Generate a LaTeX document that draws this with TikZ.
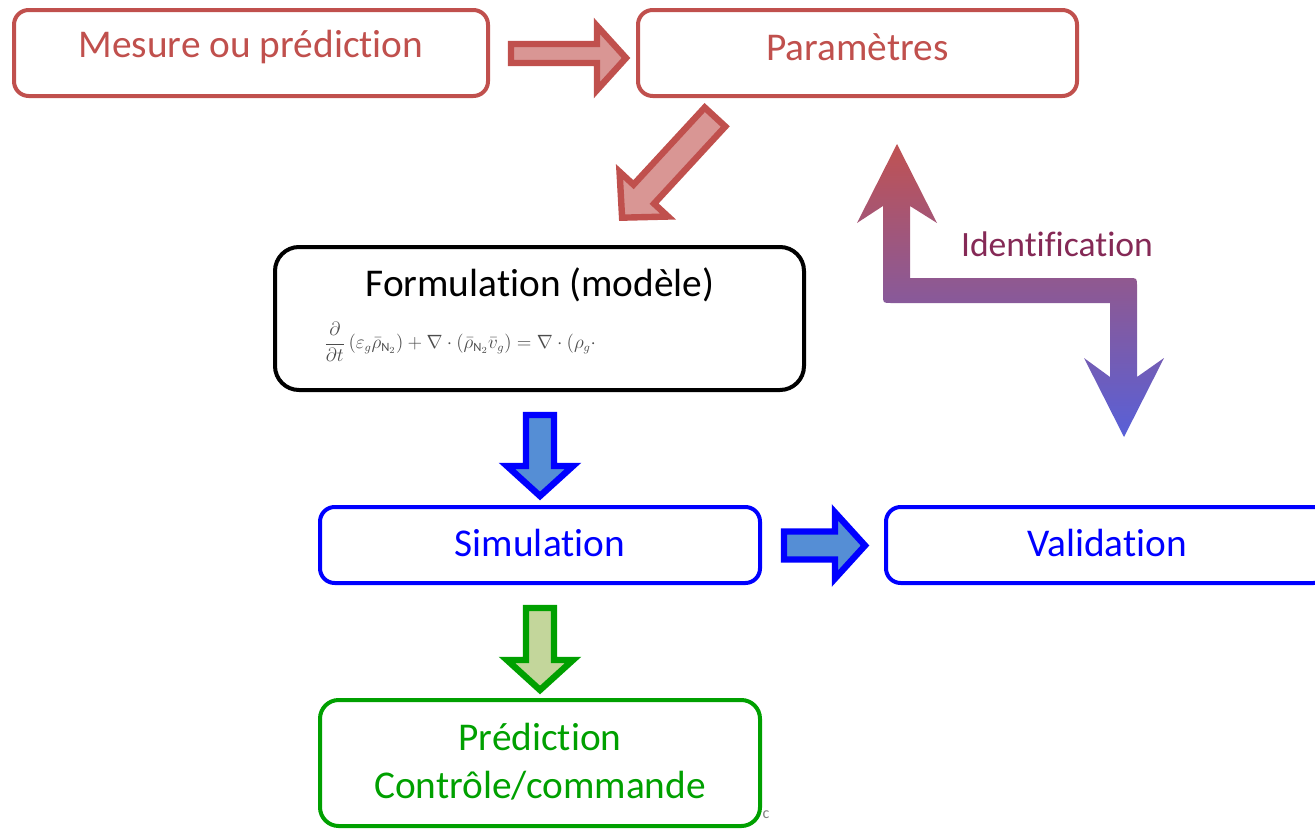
\documentclass[tikz,border=0pt]{standalone}
\usepackage{fontspec}
\setmainfont{Carlito}[Ligatures=NoCommon]
\usetikzlibrary{calc}
\definecolor{rd}{HTML}{C0504D}
\definecolor{rdfill}{HTML}{D99694}
\definecolor{bl}{HTML}{0000FF}
\definecolor{blfill}{HTML}{558ED5}
\definecolor{gr}{RGB}{0,160,0}
\definecolor{grfill}{HTML}{C3D69B}
\definecolor{idtop}{RGB}{192,82,82}
\definecolor{idmid}{RGB}{135,90,140}
\definecolor{idbot}{RGB}{88,96,216}
\definecolor{idtext}{RGB}{133,41,86}
\newcommand{\blkarrow}[7]{%
  \begin{scope}[shift={#1},rotate=#2]
    \draw[#7] (0,#4) -- ({#3-#6},#4) -- ({#3-#6},#5) -- (#3,0) -- ({#3-#6},-#5) -- ({#3-#6},-#4) -- (0,-#4) -- cycle;
  \end{scope}}
\tikzset{
  box/.style={rectangle, line width=3pt, inner sep=0pt},
  redbox/.style={box, draw=rd, rounded corners=11pt},
  blackbox/.style={box, draw=black, rounded corners=18pt},
  bluebox/.style={box, draw=bl, rounded corners=11pt},
  greenbox/.style={box, draw=gr, rounded corners=14pt},
  lbl/.style={inner sep=0pt, font=\fontsize{29.5}{36}\selectfont},
  redarrow/.style={draw=rd, fill=rdfill, line width=4.8pt},
  bluearrow/.style={draw=bl, fill=blfill, line width=4.8pt},
  greenarrow/.style={draw=gr, fill=grfill, line width=4.8pt},
}
\begin{document}
\begin{tikzpicture}[x=0.75pt,y=0.75pt]
\useasboundingbox (0,0) rectangle (1315,-832);
% boxes
\node[redbox, minimum width=474*0.75pt, minimum height=86*0.75pt] (mesure) at (251,-53) {};
\node[lbl, text=rd] (mesuretext) at (251,-47) {Mesure ou prédiction};
\node[redbox, minimum width=439*0.75pt, minimum height=86*0.75pt] (param) at (857.5,-53) {};
\node[lbl, text=rd] (paramtext) at (857.5,-47) {Paramètres};
\node[blackbox, minimum width=529*0.75pt, minimum height=143*0.75pt] (form) at (539.5,-318.5) {};
\node[lbl] (formtitle) at (540,-285) {Formulation (modèle)};
\node[text=black!70, inner sep=0pt, font=\fontsize{13.5}{16}\selectfont] (formeq) at (461,-342)
  {$\displaystyle\frac{\partial}{\partial t}\left(\varepsilon_g\bar{\rho}_{\mathrm{N}_2}\right)+\nabla\cdot\left(\bar{\rho}_{\mathrm{N}_2}\bar{v}_g\right)=\nabla\cdot\left(\rho_g\cdot\right.$};
\node[bluebox, minimum width=440*0.75pt, minimum height=76*0.75pt] (sim) at (540,-545) {};
\node[lbl, text=bl] (simtext) at (540,-543) {Simulation};
\node[bluebox, minimum width=442*0.75pt, minimum height=76*0.75pt] (valid) at (1107,-545) {};
\node[lbl, text=bl] (validtext) at (1107,-543) {Validation};
\node[greenbox, minimum width=440*0.75pt, minimum height=126*0.75pt] (pred) at (540,-763) {};
\node[lbl, text=gr, align=center] (predtext) at (540,-762) {Prédiction\\Contrôle/commande};
\node[text=black!50, font=\fontsize{12}{14}\selectfont, inner sep=0pt] (cmark) at (766,-815) {c};
% block arrows
\draw[redarrow] (511,-44) -- (597,-44) -- (597,-26) -- (626,-58) -- (597,-90) -- (597,-63) -- (511,-63) -- cycle;
\blkarrow{(715,-117)}{227.3}{137}{14}{33}{32}{redarrow}
\blkarrow{(540,-415)}{-90}{81}{14}{33}{30}{bluearrow}
\blkarrow{(784,-545.5)}{0}{81}{14}{33}{30}{bluearrow}
\blkarrow{(540,-608)}{-90}{82}{14}{33}{30}{greenarrow}
% identification arrow
\shade[top color=idtop, middle color=idmid, bottom color=idbot]
  (897,-144) -- (937,-223) -- (910,-206) -- (910,-278) -- (1129,-278)
  .. controls (1137,-278) .. (1137,-286) -- (1137,-377) -- (1164,-358) -- (1124,-437)
  -- (1084,-358) -- (1110,-377) -- (1110,-303) -- (891,-303)
  .. controls (883,-303) .. (883,-295) -- (883,-206) -- (857,-223) -- cycle;
\node[text=idtext, font=\fontsize{26.7}{32}\selectfont, inner sep=0pt] (ident) at (1057,-244) {Identification};
\end{tikzpicture}
\end{document}
